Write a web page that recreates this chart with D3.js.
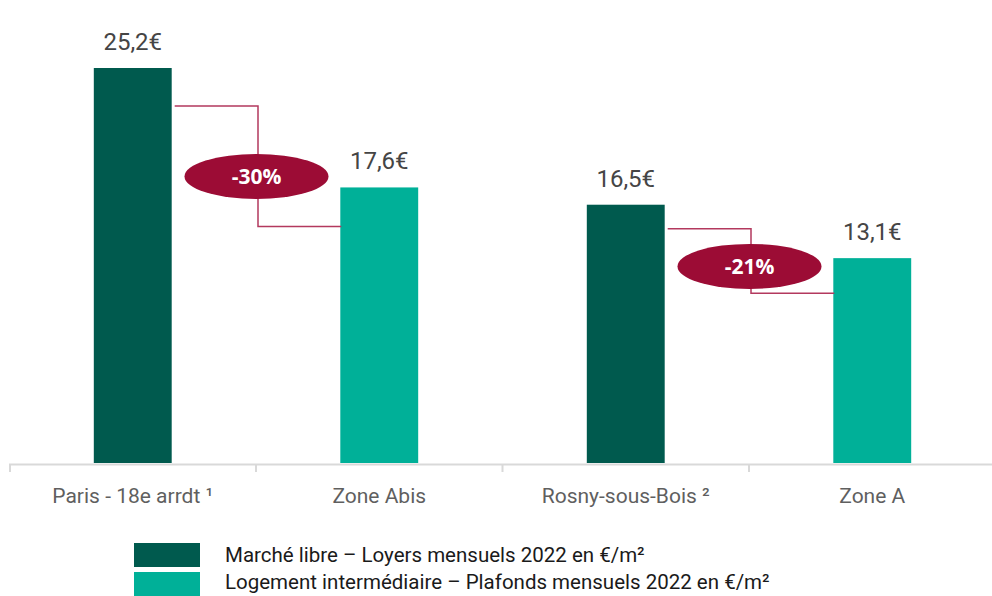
<!DOCTYPE html>
<html lang="fr">
<head>
<meta charset="utf-8">
<script src="https://cdn.jsdelivr.net/npm/d3@7.9.0/dist/d3.min.js"></script>
<style>
  body { margin: 0; background: #fff; }
  svg { display: block; font-family: Roboto, "Open Sans", sans-serif; }
</style>
</head>
<body>
<div id="chart"></div>
<script>
  // data
  const categories = ['Paris - 18e arrdt ¹', 'Zone Abis', 'Rosny-sous-Bois ²', 'Zone A'];
  const values = [25.2, 17.6, 16.5, 13.1];
  const seriesOf = [0, 1, 0, 1];
  const seriesNames = [
    'Marché libre – Loyers mensuels 2022 en €/m²',
    'Logement intermédiaire – Plafonds mensuels 2022 en €/m²'
  ];
  const comparisons = [
    { from: 0, to: 1, label: '-30%' },
    { from: 2, to: 3, label: '-21%' }
  ];

  // connector offsets below bar tops (px)
  const connectorLayout = [
    { top: 38, bottom: 39 },
    { top: 24, bottom: 35 }
  ];

  const width = 992;
  const height = 596;
  const colors = ['#005a4e', '#00b098'];
  const crimson = '#9c0c35';

  const fr = d3.formatLocale({ decimal: ',', thousands: ' ', grouping: [3], currency: ['', '€'] });
  const fmt = fr.format('$.1f');

  const svg = d3.select('#chart')
    .append('svg')
    .attr('width', width)
    .attr('height', height);

  const xScale = d3.scaleBand()
    .domain(categories)
    .range([9.5, 995.5])
    .padding(0);

  const yScale = d3.scaleLinear()
    .domain([0, 28])
    .range([464, 24]);

  const barW = xScale.bandwidth() * 0.316;
  const rows = categories.map((c, i) => ({ cat: c, value: values[i], s: seriesOf[i] }));
  const barX = (d) => xScale(d.cat) + (xScale.bandwidth() - barW) / 2;

  // axis
  const axis = svg.append('g')
    .attr('transform', `translate(0, ${yScale(0)})`)
    .call(d3.axisBottom(xScale).tickSize(0).tickSizeOuter(8).tickPadding(24));
  axis.select('.domain').attr('stroke', '#d9d9d9').attr('stroke-width', 2);
  axis.selectAll('text')
    .attr('fill', '#5f5f5f')
    .style('font-size', '21px')
    .style('font-family', 'Roboto, sans-serif');

  // separators between categories
  svg.append('g')
    .selectAll('line')
    .data(categories.slice(1))
    .join('line')
    .attr('x1', (d) => xScale(d))
    .attr('x2', (d) => xScale(d))
    .attr('y1', yScale(0))
    .attr('y2', yScale(0) + 8)
    .attr('stroke', '#d9d9d9')
    .attr('stroke-width', 2);

  // bars
  svg.append('g')
    .selectAll('rect')
    .data(rows)
    .join('rect')
    .attr('x', barX)
    .attr('y', (d) => yScale(d.value))
    .attr('width', barW)
    .attr('height', (d) => yScale(0) - yScale(d.value) - 1)
    .attr('fill', (d) => colors[d.s]);

  // value labels
  svg.append('g')
    .selectAll('text')
    .data(rows)
    .join('text')
    .attr('x', (d) => barX(d) + barW / 2)
    .attr('y', (d) => yScale(d.value) - 18)
    .attr('text-anchor', 'middle')
    .attr('fill', '#454545')
    .style('font-size', '24px')
    .text((d) => fmt(d.value));

  // comparison connectors
  comparisons.forEach((c, i) => {
    const a = rows[c.from];
    const b = rows[c.to];
    const lay = connectorLayout[i];
    const x0 = barX(a) + barW + 3;
    const xm = xScale(b.cat) + 2;
    const x1 = barX(b) + 1;
    const y0 = yScale(a.value) + lay.top;
    const y1 = yScale(b.value) + lay.bottom;
    const cy = y0 + (y1 - y0) * 0.585;

    svg.append('path')
      .attr('d', `M${x0},${y0}H${xm}V${y1}H${x1}`)
      .attr('fill', 'none')
      .attr('stroke', '#b3395e')
      .attr('stroke-width', 1.5);

    svg.append('ellipse')
      .attr('cx', xm - 1.5)
      .attr('cy', cy)
      .attr('rx', 72)
      .attr('ry', 22.5)
      .attr('fill', crimson);

    svg.append('text')
      .attr('x', xm - 1.5)
      .attr('y', cy)
      .attr('dy', '0.36em')
      .attr('text-anchor', 'middle')
      .attr('fill', '#fff')
      .style('font-family', '"Open Sans", sans-serif')
      .style('font-weight', 700)
      .style('font-size', '21px')
      .text(c.label);
  });

  // legend
  const legend = svg.append('g')
    .attr('transform', 'translate(134, 543)');
  const items = legend.selectAll('g')
    .data(seriesNames)
    .join('g')
    .attr('transform', (d, i) => `translate(0, ${i * 29})`);
  items.append('rect')
    .attr('width', 66)
    .attr('height', 24)
    .attr('fill', (d, i) => colors[i]);
  items.append('text')
    .attr('x', 91)
    .attr('y', (d, i) => 19 - i * 2)
    .attr('fill', '#1a1a1a')
    .style('font-size', '20.5px')
    .text((d) => d);
</script>
</body>
</html>
